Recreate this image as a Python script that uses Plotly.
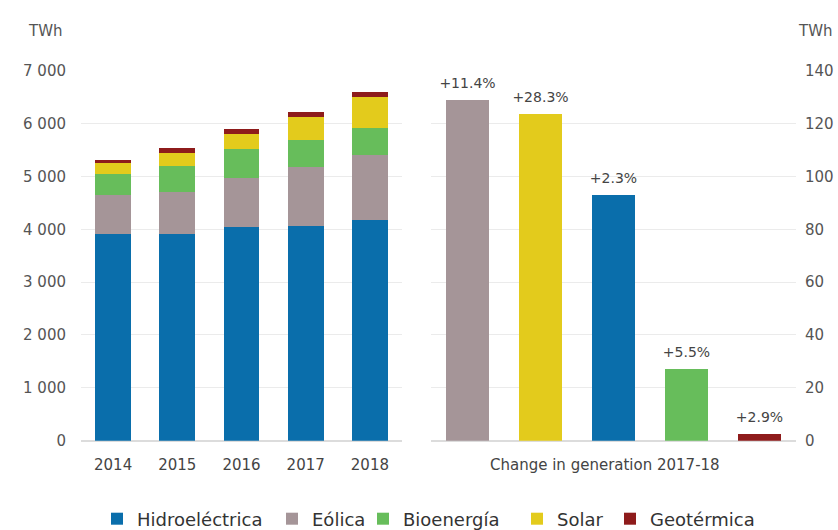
import plotly.graph_objects as go

years = ["2014", "2015", "2016", "2017", "2018"]
hydro = [3920, 3920, 4050, 4060, 4175]
wind = [730, 790, 925, 1120, 1230]
bio = [405, 485, 535, 505, 503]
solar = [190, 255, 300, 440, 599]
geo = [75, 80, 85, 90, 94]

change_cats = ["Eólica", "Solar", "Hidroeléctrica", "Bioenergía", "Geotérmica"]
change_vals = [129, 123.5, 93, 27, 2.7]
change_labels = ["+11.4%", "+28.3%", "+2.3%", "+5.5%", "+2.9%"]

left_ticks = [0, 1000, 2000, 3000, 4000, 5000, 6000, 7000]
left_ticktext = ["0", "1 000", "2 000", "3 000", "4 000", "5 000", "6 000", "7 000"]
right_ticks = [0, 20, 40, 60, 80, 100, 120, 140]

colors = {
    "Hidroeléctrica": "#0a6eab",
    "Eólica": "#a59598",
    "Bioenergía": "#67bd5b",
    "Solar": "#e3cb1c",
    "Geotérmica": "#8e1b1b",
}

FONT = "DejaVu Sans"
W, H = 838, 530

series = [("Hidroeléctrica", hydro), ("Eólica", wind), ("Bioenergía", bio),
          ("Solar", solar), ("Geotérmica", geo)]
legend_ids = ["legend", "legend2", "legend3", "legend4", "legend5"]
legend_text_x = [132, 307, 398, 552, 645]

fig = go.Figure()
for (name, vals), lid in zip(series, legend_ids):
    fig.add_trace(go.Bar(x=years, y=vals, name=name, marker_color=colors[name],
                         marker_line_width=0, width=0.56, xaxis="x", yaxis="y",
                         legend=lid))

fig.add_trace(go.Bar(x=change_cats, y=change_vals,
                     marker_color=[colors[c] for c in change_cats], marker_line_width=0,
                     width=0.58, showlegend=False, xaxis="x2", yaxis="y2"))
fig.add_trace(go.Scatter(x=change_cats, y=change_vals, text=change_labels,
                         mode="markers+text", textposition="top center",
                         marker=dict(size=12, opacity=0), cliponaxis=False,
                         textfont=dict(family=FONT, size=14, color="#444"),
                         showlegend=False, hoverinfo="skip", xaxis="x2", yaxis="y2"))

ybot = 1 - 440.7 / H
ytop = 1 - 70.7 / H

legends = {}
for lid, tx in zip(legend_ids, legend_text_x):
    legends[lid] = dict(orientation="h", x=(tx - 35) / W, xanchor="left",
                        y=1 - 519 / H, yanchor="middle",
                        font=dict(family=FONT, size=18, color="#333"),
                        itemwidth=30, bgcolor="rgba(0,0,0,0)")

fig.update_layout(
    width=W, height=H,
    margin=dict(l=0, r=0, t=0, b=0, autoexpand=False),
    paper_bgcolor="white", plot_bgcolor="white",
    barmode="stack",
    font=dict(family=FONT, size=15, color="#555"),
    xaxis=dict(domain=[81 / W, 402 / W], type="category", showgrid=False,
               showline=False, ticks="", tickfont=dict(size=15, color="#444"),
               ticklabelstandoff=13),
    yaxis=dict(domain=[ybot, ytop], range=[0, 7000], tickvals=left_ticks,
               ticktext=left_ticktext, gridcolor="#ebebeb", zeroline=True,
               zerolinecolor="#dcdcdc", showline=False, ticks="",
               tickfont=dict(size=15, color="#555"), ticklabelstandoff=14),
    xaxis2=dict(domain=[431 / W, 796 / W], type="category", showgrid=False,
                showline=False, ticks="", showticklabels=False, anchor="y2"),
    yaxis2=dict(domain=[ybot, ytop], range=[0, 140], tickvals=right_ticks,
                gridcolor="#ebebeb", zeroline=True, zerolinecolor="#dcdcdc",
                side="right", anchor="x2", showline=False, ticks="",
                tickfont=dict(size=15, color="#555"), ticklabelstandoff=8),
    annotations=[
        dict(text="TWh", x=45 / W, y=1 - 31 / H, xref="paper", yref="paper",
             xanchor="center", yanchor="middle",
             showarrow=False, font=dict(size=15, color="#555")),
        dict(text="TWh", x=815 / W, y=1 - 31 / H, xref="paper", yref="paper",
             xanchor="center", yanchor="middle",
             showarrow=False, font=dict(size=15, color="#555")),
        dict(text="Change in generation 2017-18", x=605 / W, y=1 - 465 / H,
             xref="paper", yref="paper", xanchor="center", yanchor="middle",
             showarrow=False, font=dict(size=15, color="#444")),
    ],
    **legends,
)

fig.write_html("out.html", config={"displayModeBar": False},
               post_script="document.body.style.margin='0';")
